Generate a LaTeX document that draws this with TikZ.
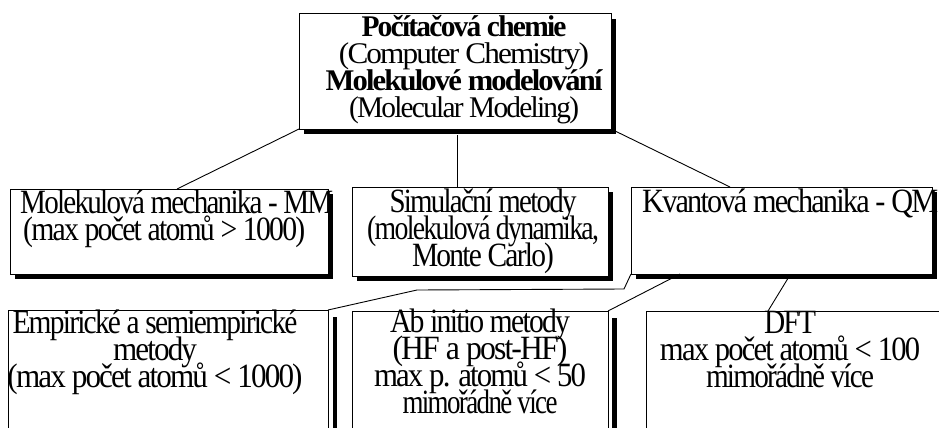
\documentclass[tikz,border=0pt]{standalone}
\usepackage{fontspec}
\usepackage{graphicx}
\setmainfont{Liberation Serif}
\newfontfamily\cfont[LetterSpace=-6]{Liberation Serif}
\usetikzlibrary{calc,shadows}
\newcommand\fw[2]{\resizebox{#1pt}{\height}{#2}}
\newcommand\tightlines{\lineskiplimit=-100pt\lineskip=0pt}
\begin{document}
\begin{tikzpicture}[x=1pt,y=-1pt,
  box/.style={draw=black, line width=1pt, fill=white, inner sep=0pt, outer sep=0pt},
  shbox/.style={box, drop shadow={fill=black, opacity=1, shadow xshift=5pt, shadow yshift=-5pt}},
  conn/.style={draw=black, line width=0.9pt},
  bigtxt/.style={inner sep=0pt, anchor=base, font=\cfont\fontsize{30}{27}\selectfont\tightlines},
  midtxt/.style={inner sep=0pt, anchor=base, font=\cfont\fontsize{34}{27}\selectfont\tightlines}]
\useasboundingbox (0,0) rectangle (939,428);
\fill[white] (0,0) rectangle (939,428);

\coordinate (topc) at (457,129);
\coordinate (simtop) at (457,187);
\coordinate (mmtop) at (177,189);
\coordinate (qmtop) at (730,187);

% boxes
\node[shbox, minimum width=312pt, minimum height=115pt] (top) at (455,71.5) {};
\node[shbox, minimum width=318pt, minimum height=85pt] (mm) at (169,231.5) {};
\node[shbox, minimum width=256pt, minimum height=89pt] (sim) at (480,231.5) {};
\node[shbox, minimum width=301pt, minimum height=87pt] (qm) at (781.5,230.5) {};
\node[box, minimum width=320pt, minimum height=150pt] (emp) at (168,385) {};
\node[box, minimum width=256pt, minimum height=150pt] (ab) at (480,386) {};
\node[box, minimum width=314pt, minimum height=150pt] (dft) at (803,386) {};
\fill[black] ($(emp.north east)+(5,7)$) rectangle ($(emp.south east)+(9,0)$);
\fill[black] ($(ab.north east)+(4,7)$) rectangle ($(ab.south east)+(9,0)$);

% connectors
\draw[conn] (top.south west) -- (mmtop);
\draw[conn] ($(topc)+(0,6)$) -- (simtop);
\draw[conn] (top.south east) -- (qmtop);
\draw[conn] (qm.south west) -- ++(-7,15) -- ++(-207,1) -- (emp.north east);
\draw[conn] ($(qm.south west)+(49,0)$) -- (ab.north east);
\draw[conn] ($(qm.south west)+(159,1)$) -- ($(dft.north west)+(122,0)$);

% texts (anchor base = baseline of last line)
\node[bigtxt, align=center] (ttop) at (464,117)
  {\fw{205}{\bfseries Počítačová chemie}\\
   \fw{250}{(Computer Chemistry)}\\
   \fw{277}{\bfseries Molekulové modelování}\\
   \fw{230}{(Molecular Modeling)}};
\node[midtxt, anchor=base west, align=left] (tmm) at (20,240)
  {\fw{313}{Molekulová mechanika - MM}\\
   \hspace*{3pt}\fw{282}{(max počet atomů > 1000)}};
\node[midtxt, align=center] (tsim) at (483,266)
  {\fw{187}{Simulační metody}\\
   \fw{232}{(molekulová dynamika,}\\
   \fw{142}{Monte Carlo)}};
\node[midtxt, anchor=base west, align=left] (tqm) at (642,212)
  {\fw{296}{Kvantová mechanika - QM}};
\node[midtxt, align=center] (temp) at (155,387)
  {\fw{285}{Empirické a semiempirické}\\
   \fw{84}{metody}\\
   \fw{295}{(max počet atomů < 1000)}};
\node[midtxt, align=center] (tab) at (480,413)
  {\fw{180}{Ab initio metody}\\
   \fw{175}{(HF a post-HF)}\\
   \fw{212}{max p. atomů < 50}\\
   \fw{155}{mimořádně více}};
\node[midtxt, align=center] (tdft) at (790,387)
  {\fw{52}{DFT}\\
   \fw{260}{max počet atomů < 100}\\
   \fw{168}{mimořádně více}};
\end{tikzpicture}
\end{document}
